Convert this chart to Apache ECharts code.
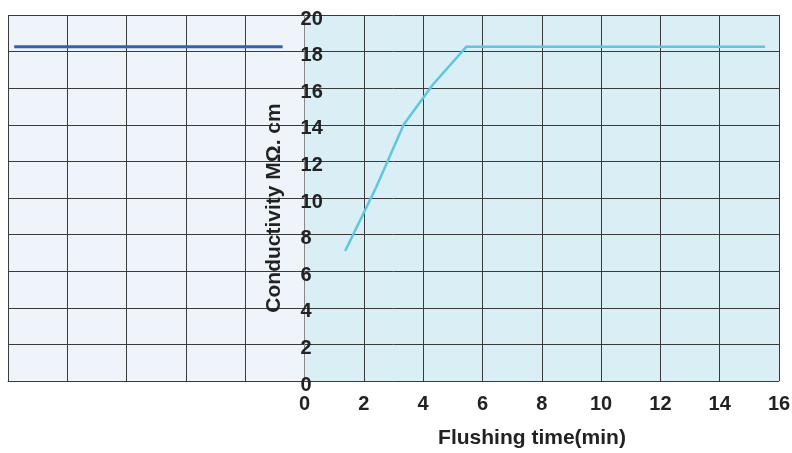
<!DOCTYPE html>
<html><head><meta charset="utf-8">
<script src="https://cdn.jsdelivr.net/npm/echarts@6/dist/echarts.min.js"></script>
<style>html,body{margin:0;padding:0;background:#fff}#c{width:792px;height:453px}</style>
</head><body><div id="c"></div>
<script>
const xTicks = [-10, -8, -6, -4, -2, 0, 2, 4, 6, 8, 10, 12, 14, 16];
const yTicks = [0, 2, 4, 6, 8, 10, 12, 14, 16, 18, 20];
const referenceLine = [[-9.79, 18.27], [-0.74, 18.27]];
const flushingCurve = [[1.37, 7.1], [2.42, 10.6], [3.34, 14.0], [4.33, 16.2], [5.46, 18.27], [15.53, 18.27]];
const regionSplit = 0;
const xName = 'Flushing time(min)';
const yName = 'Conductivity MΩ. cm';

const leftFill = '#eef4f9', rightFill = '#d9eef5';
const areaColors = xTicks.slice(0, -1).map(t => (t < regionSplit ? leftFill : rightFill));

const gridLeft = 8, gridRight = 13, W = 792;
const plotW = W - gridLeft - gridRight;
const xMin = xTicks[0], xMax = xTicks[xTicks.length - 1];
const yOffset = -plotW * (regionSplit - xMin) / (xMax - xMin);

const chart = echarts.init(document.getElementById('c'), null, {renderer: 'canvas'});
const fontFamily = 'Liberation Sans, Arial, sans-serif';
chart.setOption({
  animation: false,
  grid: {left: gridLeft, right: gridRight, top: 15, bottom: 72, containLabel: false, outerBoundsMode: 'none'},
  xAxis: {
    type: 'value', min: xMin, max: xMax, interval: 2, z: 0,
    axisLine: {show: true, onZero: false, lineStyle: {color: '#888', width: 1}},
    axisTick: {show: false},
    splitArea: {show: true, areaStyle: {color: areaColors}},
    splitLine: {show: true, lineStyle: {color: '#3a3a3a', width: 1}},
    axisLabel: {
      margin: 13, color: '#222', fontWeight: 'bold', fontSize: 20, fontFamily,
      formatter: v => (v < 0 ? '' : String(v))
    }
  },
  yAxis: {
    type: 'value', min: yTicks[0], max: yTicks[yTicks.length - 1], interval: 2, z: 1,
    position: 'left', offset: yOffset,
    axisLine: {show: true, onZero: false, lineStyle: {color: '#888', width: 1}},
    axisTick: {show: false},
    splitLine: {show: true, lineStyle: {color: '#3a3a3a', width: 1}},
    axisLabel: {
      inside: true, margin: -4, color: '#222', fontWeight: 'bold', fontSize: 20, fontFamily,
      verticalAlign: 'top', lineHeight: 8
    },
    name: yName, nameLocation: 'middle', nameGap: 20, nameRotate: 90,
    nameTextStyle: {color: '#222', fontWeight: 'bold', fontSize: 21, fontFamily, padding: [0, 20, 0, 0]}
  },
  graphic: [{
    type: 'text', x: 532, y: 438,
    style: {text: xName, fill: '#222', font: 'bold 21px ' + fontFamily, textAlign: 'center', textVerticalAlign: 'middle'}
  }],
  series: [
    {
      type: 'line', data: referenceLine, showSymbol: false, symbol: 'none',
      lineStyle: {color: '#2f63b0', width: 3}, z: 3
    },
    {
      type: 'line', data: flushingCurve, showSymbol: false, symbol: 'none',
      lineStyle: {color: '#5ec6de', width: 2.5}, z: 3
    }
  ]
});
</script></body></html>
